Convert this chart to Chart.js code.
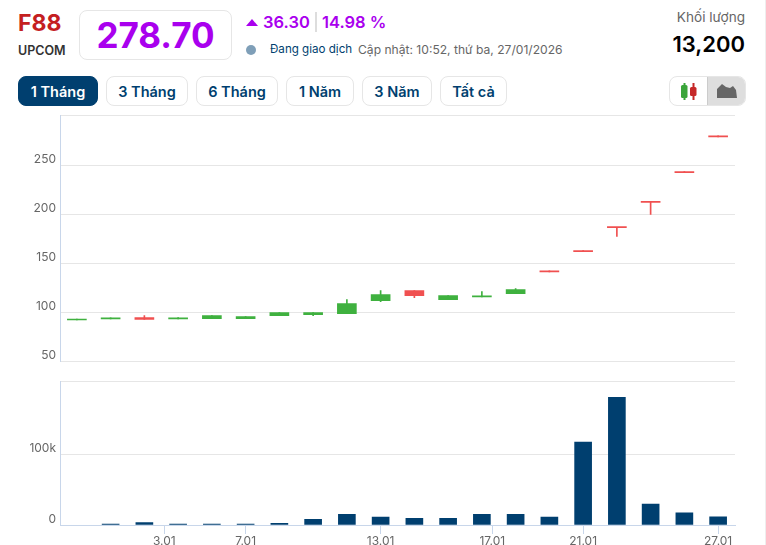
<!DOCTYPE html>
<html><head><meta charset="utf-8">
<script src="https://cdn.jsdelivr.net/npm/chart.js@4"></script>
<style>
html,body{margin:0;padding:0;background:#fff;overflow:hidden}
body{width:766px;height:545px;position:relative;font-family:Inter,Roboto,sans-serif}
.a{position:absolute;white-space:nowrap;line-height:1}
.btn{position:absolute;top:76px;height:28px;border:1px solid #e6e6e6;border-radius:8px;display:flex;align-items:center;justify-content:center;font-size:14.5px;font-weight:600;color:#003f6f;box-sizing:content-box}
.btn.on{background:#003f6f;color:#fff;border-color:#003f6f}
canvas{position:absolute;left:0}
</style></head><body>
<div class="a" style="left:18px;top:12px;font-size:23px;font-weight:700;color:#c4201f">F88</div>
<div class="a" style="left:18px;top:45px;font-size:12.5px;font-weight:600;color:#333">UPCOM</div>
<div class="a" style="left:79px;top:10px;width:151px;height:48px;border:1px solid #e6e6e6;border-radius:8px;display:flex;align-items:center;justify-content:center;font-size:35px;font-weight:700;color:#a900ee">278.70</div>
<div class="a" style="left:246px;top:19px;width:0;height:0;border-left:6px solid transparent;border-right:6px solid transparent;border-bottom:7px solid #a900ee"></div>
<div class="a" style="left:263px;top:14px;font-size:16.5px;font-weight:600;color:#a900ee">36.30</div>
<div class="a" style="left:315px;top:12px;width:2px;height:20px;background:#ddd"></div>
<div class="a" style="left:322px;top:14px;font-size:16.5px;font-weight:600;color:#a900ee">14.98 %</div>
<div class="a" style="left:246px;top:45px;width:10px;height:10px;border-radius:50%;background:#7f9fb8"></div>
<div class="a" style="left:270px;top:44px;font-size:11.6px;color:#003f6f">Đang giao dịch</div>
<div class="a" style="left:358px;top:44px;font-size:12.1px;color:#666">Cập nhật: 10:52, thứ ba, 27/01/2026</div>
<div class="a" style="right:21px;top:11px;font-size:13.6px;color:#666">Khối lượng</div>
<div class="a" style="right:21px;top:33px;font-size:22px;font-weight:600;color:#000">13,200</div>

<div class="btn on" style="left:18px;width:78px">1 Tháng</div>
<div class="btn" style="left:106px;width:80px">3 Tháng</div>
<div class="btn" style="left:196px;width:80px">6 Tháng</div>
<div class="btn" style="left:286px;width:66px">1 Năm</div>
<div class="btn" style="left:362px;width:68px">3 Năm</div>
<div class="btn" style="left:440px;width:65px">Tất cả</div>

<div class="a" style="left:669px;top:76px;width:75px;height:28px;border:1px solid #e6e6e6;border-radius:8px;overflow:hidden">
  <div style="position:absolute;left:37px;top:0;width:38px;height:28px;background:#dedede;border-left:1px solid #ccc"></div>
  <svg width="75" height="28" style="position:absolute;left:0;top:0">
    <rect x="13.5" y="6" width="2" height="17" fill="#3aa53a"/><rect x="11" y="8" width="6.5" height="13" rx="1.5" fill="#3aa53a"/>
    <rect x="22.5" y="6" width="2" height="17" fill="#c62828"/><rect x="20" y="10" width="6.5" height="9" rx="1.5" fill="#c62828"/>
    <path d="M47 21 L47 12 L52 7 L56 10 L60 11 L63 9 L66 13 L67 21 Z" fill="#666"/>
  </svg>
</div>
<div class="a" style="left:765px;top:0;width:1px;height:545px;background:#eee"></div>

<canvas id="price" style="top:100px" width="766" height="273"></canvas>
<canvas id="volume" style="top:370px" width="766" height="175"></canvas>

<script>
const dates = ['29.12','30.12','31.12','5.01','6.01','7.01','8.01','9.01','12.01','13.01','14.01','15.01','16.01','19.01','20.01','21.01','22.01','23.01','26.01','27.01'];
const opens  = [92.5,93.6,95,93.6,93.9,93.9,96.9,98,99,112.2,122.4,113.3,116,119.4,141.6,162.1,186.5,212.3,242.5,278.8];
const closes = [92.5,93.6,93,93.6,96.9,95.9,100,100,109.2,118.4,117.3,117.3,116,123.5,141.5,162,186.4,212.2,242.4,278.7];
const highs  = [92.5,93.6,97,94.9,96.9,95.9,100,100,113.3,122.4,122.4,117.3,121.4,124.5,141.6,162.1,186.5,212.3,242.5,278.8];
const lows   = [92.5,93.6,93,93.6,93.9,93.9,96.9,97,99,111.2,115.3,113.3,116,119.4,141.5,162,177.5,200,242.4,278.7];
const volumes = [null,1200,3500,1200,1200,1200,2500,8000,15000,11000,9500,9500,15000,15000,11000,117000,180000,29500,17000,11500];
const dateTickPositions = [2.59,5,9,12.31,15,19];
const dateTickLabels = ['3.01','7.01','13.01','17.01','21.01','27.01'];
const priceTicks = [50,100,150,200,250];
const priceMax = 301;
const volumeTicks = [0,100000];
const volumeTickLabels = ['0','100k'];
const volumeMax = 202800;

const GREEN='#3fb13f', RED='#f05050', NAVY='#003f6f', GRID='#e6e6e6', AXIS='#c8d6ea', TEXT='#666';
const FONT={family:'Inter, Roboto, sans-serif',size:12};
const isDown=i=>closes[i]<opens[i];
const candleColors=dates.map((d,i)=>isDown(i)?RED:GREEN);
const X_MIN=-0.5,X_MAX=19.5;

const yFit=s=>{s.width=60;};
new Chart(document.getElementById('price'),{
  type:'bar',
  data:{datasets:[
    {data:dates.map((d,i)=>({x:i,y:[lows[i],highs[i]]})),backgroundColor:candleColors,barThickness:1,grouped:false,minBarLength:1},
    {data:dates.map((d,i)=>({x:i,y:[opens[i],closes[i]]})),backgroundColor:candleColors,barThickness:19,grouped:false,minBarLength:1}
  ]},
  options:{responsive:false,animation:false,
    layout:{padding:{top:15,bottom:3,right:31,left:0}},
    plugins:{legend:{display:false},tooltip:{enabled:false}},
    scales:{
      x:{type:'linear',display:false,min:X_MIN,max:X_MAX,offset:false,grid:{offset:false}},
      y:{min:50,max:priceMax,afterFit:yFit,
        afterBuildTicks:s=>{s.ticks=priceTicks.concat([priceMax]).map(v=>({value:v}));},
        grid:{color:GRID,drawTicks:false},border:{color:AXIS},
        ticks:{color:TEXT,font:FONT,padding:4,labelOffset:-6,callback:v=>v===priceMax?'':String(v)}}
    }
  }
});
new Chart(document.getElementById('volume'),{
  type:'bar',
  data:{datasets:[{data:dates.map((d,i)=>({x:i,y:volumes[i]})),backgroundColor:NAVY,barThickness:17}]},
  options:{responsive:false,animation:false,
    layout:{padding:{top:9,right:31,left:0,bottom:0}},
    plugins:{legend:{display:false},tooltip:{enabled:false}},
    scales:{
      x:{type:'linear',min:X_MIN,max:X_MAX,offset:false,
        afterFit:s=>{s.height=20;},
        afterBuildTicks:s=>{s.ticks=dateTickPositions.map(v=>({value:v}));},
        grid:{offset:false,drawOnChartArea:false,color:AXIS,tickLength:9},border:{color:AXIS},
        ticks:{color:TEXT,font:FONT,padding:0,maxRotation:0,autoSkip:false,
          callback:v=>{const i=dateTickPositions.indexOf(v);return i<0?'':dateTickLabels[i];}}},
      y:{min:0,max:volumeMax,afterFit:yFit,
        afterBuildTicks:s=>{s.ticks=volumeTicks.concat([volumeMax]).map(v=>({value:v}));},
        grid:{color:GRID,drawTicks:false},border:{color:AXIS},
        ticks:{color:TEXT,font:FONT,padding:4,labelOffset:-6,
          callback:v=>{const i=volumeTicks.indexOf(v);return i<0?'':volumeTickLabels[i];}}}
    }
  }
});
</script>
</body></html>
